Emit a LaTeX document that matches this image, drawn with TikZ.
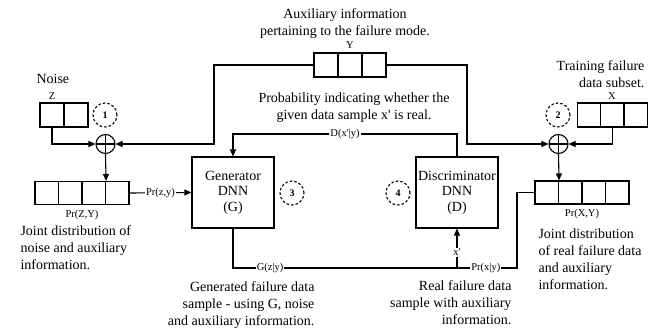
\documentclass[tikz,border=0pt]{standalone}
\usepackage{fontspec}
\setmainfont{Liberation Serif}[Ligatures=TeXOff]
\usetikzlibrary{arrows.meta}
\begin{document}
\begin{tikzpicture}[x=1pt,y=-1pt,
  line width=1.1pt,
  >={Triangle[length=7pt,width=6pt]},
  cell/.style={draw, minimum width=23.5pt, minimum height=24pt, inner sep=0pt},
  pcell/.style={draw, minimum width=23.5pt, minimum height=23pt, inner sep=0pt},
  dnn/.style={draw, minimum width=82pt, minimum height=71pt, align=center, inner sep=0pt,
    font=\fontsize{14}{15.5}\selectfont},
  num/.style={draw, dashed, dash pattern=on 2.6pt off 2pt, circle, minimum size=24pt, inner sep=0pt,
    font=\bfseries\fontsize{10}{12}\selectfont},
  oplus/.style={draw, circle, minimum size=19pt, inner sep=0pt,
    path picture={\draw[line width=1.1pt] (path picture bounding box.north) -- (path picture bounding box.south)
      (path picture bounding box.west) -- (path picture bounding box.east);}},
  small/.style={font=\fontsize{10.5}{12}\selectfont, inner sep=1pt},
  lbl/.style={small, fill=white},
  txt/.style={font=\fontsize{14}{17}\selectfont, inner sep=0pt}
]
\useasboundingbox (0,0) rectangle (657,330);

% Noise Z
\node[txt, anchor=west] (noise) at (36,79) {Noise};
\node[small] (zl) at (52,96) {Z};
\node[cell, minimum width=24pt] (z1) at (52,115) {};
\node[cell, minimum width=24pt] (z2) at (76,115) {};
\node[num] (n1) at (105,115) {1};
\node[oplus] (o1) at (105.5,144) {};

% Y
\node[txt, align=center, anchor=north] (aux) at (345,8) {Auxiliary information\\pertaining to the failure mode.};
\node[small] (yl) at (350,45) {Y};
\node[cell, minimum width=24pt] (y1) at (326,65) {};
\node[cell, minimum width=24pt] (y2) at (350,65) {};
\node[cell, minimum width=24pt] (y3) at (374,65) {};

% X
\node[txt, align=right, anchor=north east] (train) at (645,60) {Training failure\\data subset.};
\node[small] (xl) at (612,96) {X};
\node[cell, minimum width=23.3pt] (x1) at (589,115) {};
\node[cell, minimum width=23.3pt] (x2) at (612.3,115) {};
\node[cell, minimum width=23.3pt] (x3) at (635.6,115) {};
\node[num] (n2) at (558,115) {2};
\node[oplus] (o2) at (558.5,144) {};

% Probability text
\node[txt, align=center, anchor=north] (prob) at (354,92) {Probability indicating whether the\\given data sample x' is real.};

% Pr(Z,Y)
\node[pcell] (p1) at (46.75,193) {};
\node[pcell] (p2) at (70.25,193) {};
\node[pcell] (p3) at (93.75,193) {};
\node[pcell] (p4) at (117.25,193) {};
\node[small] (pzl) at (82,215) {Pr(Z,Y)};
\node[txt, align=left, anchor=north west] (jl) at (20,225) {Joint distribution of\\noise and auxiliary\\information.};

% Pr(X,Y)
\node[pcell] (q1) at (546.75,192.5) {};
\node[pcell] (q2) at (570.25,192.5) {};
\node[pcell] (q3) at (593.75,192.5) {};
\node[pcell] (q4) at (617.25,192.5) {};
\node[small] (pxl) at (582,214) {Pr(X,Y)};
\node[txt, align=left, anchor=north west] (jr) at (538,228) {Joint distribution\\of real failure data\\and auxiliary\\information.};

% DNNs
\node[dnn] (G) at (233,192.5) {Generator\\DNN\\(G)};
\node[dnn] (D) at (457,192.5) {Discriminator\\DNN\\(D)};
\node[num] (n3) at (292,193) {3};
\node[num] (n4) at (398,193) {4};

% bottom texts
\node[txt, align=right, anchor=north east] (gt) at (315,281) {Generated failure data\\sample - using G, noise\\and auxiliary information.};
\node[txt, align=right, anchor=north east] (rt) at (512,280) {Real failure data\\sample with auxiliary\\information.};

% coordinates
\coordinate (ly) at (214,65);
\coordinate (ry) at (467,65);
\coordinate (dtop) at (457,134);
\coordinate (gtop) at (233,134);
\coordinate (gb) at (233,268);
\coordinate (jn) at (457,268);
\coordinate (qa) at (517,192.5);
\coordinate (qb) at (517,268);

% connectors
\draw[->] (z1.south) |- (o1.west);
\draw[->] (y1.west) -- (ly) |- (o1.east);
\draw[->] (y3.east) -- (ry) |- (o2.west);
\draw[->] (x2.south) |- (o2.east);
\draw[->] (o1.south) -- (p3.north east);
\draw[->] (o2.south) -- (q1.north east);
\draw[->] (p4.east) -- node[lbl]{Pr(z,y)} (G.west);
\draw[->] (D.north) -- (dtop) -- node[lbl]{D(x'|y)} (gtop) -- (G.north);
\draw (G.south) -- (gb) -- node[lbl, pos=0.166]{G(z|y)} (jn);
\draw (q1.west) -- (qa) -- (qb) -- node[lbl, pos=0.52]{Pr(x|y)} (jn);
\draw[->] (jn) -- node[lbl, pos=0.4]{x'} (D.south);
\end{tikzpicture}
\end{document}
